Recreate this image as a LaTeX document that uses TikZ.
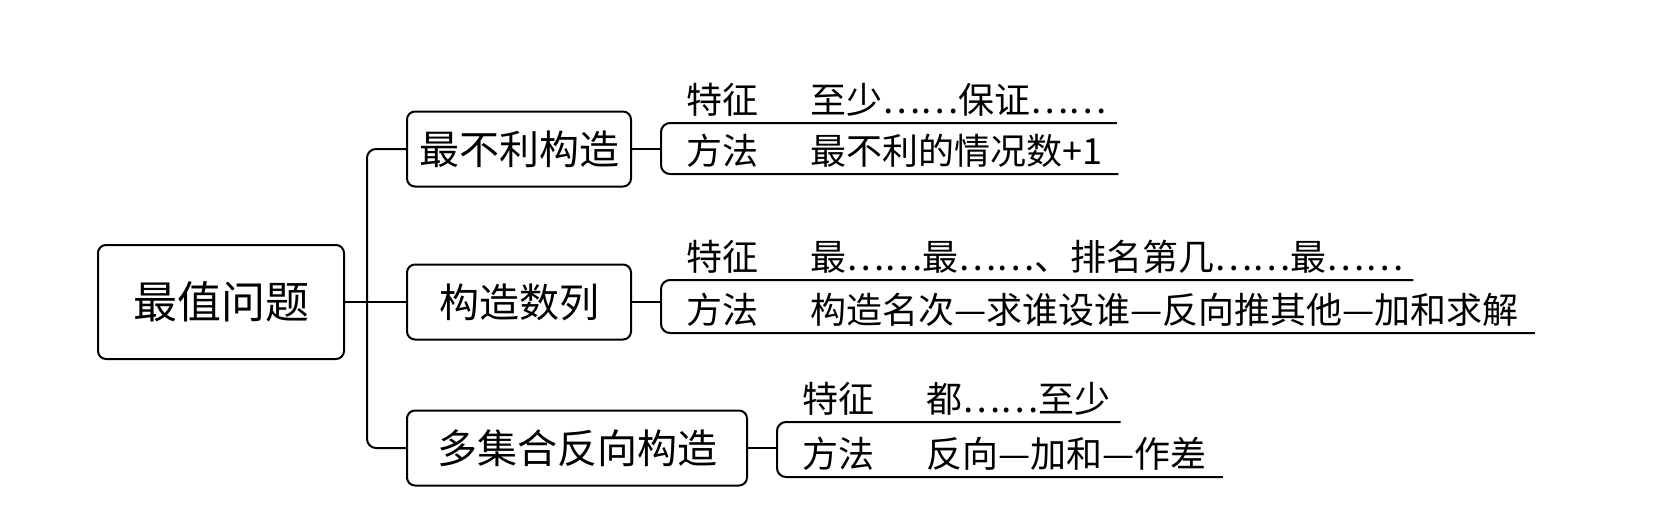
\documentclass[tikz,border=0pt]{standalone}
\usepackage{fontspec}
\newfontfamily\cjkfont{Noto Sans CJK SC}
\usetikzlibrary{calc, positioning}

\tikzset{
	topic/.style={draw, rounded corners=8pt, line width=2pt, inner sep=0pt, font=\cjkfont\fontsize{40}{40}\selectfont},
	item/.style={inner sep=0pt, anchor=west, text height=31pt, text depth=5pt, font=\cjkfont\fontsize{36}{36}\selectfont},
	wire/.style={line width=2pt, rounded corners=9pt},
}

\begin{document}
\begin{tikzpicture}[x=1pt, y=-1pt]
	\def\xTRUNK{367};
	\def\xLEFT{406};

	\useasboundingbox (0,0) rectangle (1654,522);

	\begin{scope}
		\node [topic, minimum width=246, minimum height=114, font=\cjkfont\fontsize{44}{44}\selectfont] (root) at (221,302) {最值问题};
		\node [topic, minimum width=224, minimum height=75, anchor=west] (cons1) at (\xLEFT,149) {最不利构造};
		\node [topic, minimum width=224, minimum height=75, anchor=west] (cons2) at (\xLEFT,302) {构造数列};
		\node [topic, minimum width=340, minimum height=75, anchor=west] (cons3) at (\xLEFT,448) {多集合反向构造};
	\end{scope}

	\begin{scope}
		\coordinate (trunk) at (\xTRUNK,302);
		\draw [wire] (cons1.west) -- (cons1.west -| trunk) -- (cons3.west -| trunk) -- (cons3.west);
		\draw [wire] (root.east) -- (cons2.west);
	\end{scope}

	\begin{scope}
		\foreach \i/\bx/\ty/\by/\feat/\meth in {
			1/661/123/174/{至少……保证……}/{最不利的情况数+1},
			2/661/280/333/{最……最……、排名第几……最……}/{构造名次—求谁设谁—反向推其他—加和求解},
			3/777/422/477/{都……至少}/{反向—加和—作差}}
		{
			\coordinate (tl\i) at (\bx,\ty);
			\coordinate (bl\i) at (\bx,\by);
			\node [item] (feat\i) at (\bx+25,\ty-23) {特征};
			\node [item] (featv\i) at (\bx+149,\ty-23) {\feat};
			\node [item] (meth\i) at (\bx+25,\by-23) {方法};
			\node [item] (methv\i) at (\bx+149,\by-23) {\meth};
			\draw [wire] ($(featv\i.east |- tl\i)+(10,0)$) -- (tl\i) -- (bl\i) -- ($(methv\i.east |- bl\i)+(16,0)$);
			\draw [wire] (cons\i.east) -- (cons\i.east -| tl\i);
		}
	\end{scope}
\end{tikzpicture}
\end{document}
